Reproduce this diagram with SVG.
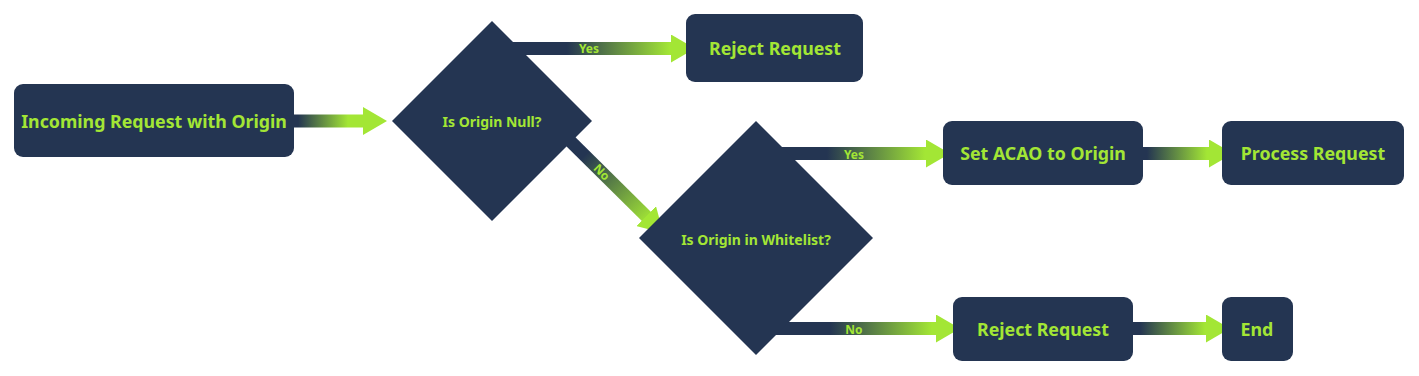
<svg xmlns="http://www.w3.org/2000/svg" width="1419" height="376" viewBox="0 0 1419 376">
<style>
.box{fill:#243552}
.t{font-family:"Noto Sans","DejaVu Sans",sans-serif;font-weight:bold;fill:#a3e635;text-anchor:middle;dominant-baseline:central}
.big{font-size:17.8px}
.mid{font-size:14px}
.lbl{font-size:12px}
.bar{stroke-width:13;fill:none}
</style>
<defs>
<marker id="ah" markerUnits="userSpaceOnUse" viewBox="0 0 24 28" markerWidth="24" markerHeight="28" refX="4" refY="14" orient="auto">
<path d="M0,0 L24,14 L0,28 Z" fill="#a3e635"/>
</marker>
<linearGradient id="g1" gradientUnits="userSpaceOnUse" x1="298" y1="0" x2="348" y2="0"><stop offset="0" stop-color="#243552"/><stop offset="1" stop-color="#a3e635"/></linearGradient>
<linearGradient id="g2" gradientUnits="userSpaceOnUse" x1="567" y1="0" x2="670" y2="0"><stop offset="0" stop-color="#243552"/><stop offset="1" stop-color="#a3e635"/></linearGradient>
<linearGradient id="g3" gradientUnits="userSpaceOnUse" x1="585" y1="155" x2="650" y2="220"><stop offset="0" stop-color="#243552"/><stop offset="1" stop-color="#a3e635"/></linearGradient>
<linearGradient id="g4" gradientUnits="userSpaceOnUse" x1="827" y1="0" x2="925" y2="0"><stop offset="0" stop-color="#243552"/><stop offset="1" stop-color="#a3e635"/></linearGradient>
<linearGradient id="g5" gradientUnits="userSpaceOnUse" x1="1147" y1="0" x2="1207" y2="0"><stop offset="0" stop-color="#243552"/><stop offset="1" stop-color="#a3e635"/></linearGradient>
<linearGradient id="g6" gradientUnits="userSpaceOnUse" x1="830" y1="0" x2="932" y2="0"><stop offset="0" stop-color="#243552"/><stop offset="1" stop-color="#a3e635"/></linearGradient>
<linearGradient id="g7" gradientUnits="userSpaceOnUse" x1="1140" y1="0" x2="1205" y2="0"><stop offset="0" stop-color="#243552"/><stop offset="1" stop-color="#a3e635"/></linearGradient>
</defs>
<g id="connectors">
<line class="bar" x1="294" y1="121" x2="367" y2="121" stroke="url(#g1)" marker-end="url(#ah)"/>
<line class="bar" x1="505" y1="48.5" x2="675" y2="48.5" stroke="url(#g2)" marker-end="url(#ah)"/>
<line class="bar" x1="560" y1="131" x2="649" y2="219" stroke="url(#g3)" marker-end="url(#ah)"/>
<line class="bar" x1="775" y1="153.5" x2="930" y2="153.5" stroke="url(#g4)" marker-end="url(#ah)"/>
<line class="bar" x1="1143" y1="153.5" x2="1213" y2="153.5" stroke="url(#g5)" marker-end="url(#ah)"/>
<line class="bar" x1="775" y1="328.5" x2="940" y2="328.5" stroke="url(#g6)" marker-end="url(#ah)"/>
<line class="bar" x1="1133" y1="328.5" x2="1210" y2="328.5" stroke="url(#g7)" marker-end="url(#ah)"/>
</g>
<g id="n1"><rect class="box" x="14" y="84" width="280" height="73" rx="9"/><text class="t big" x="154" y="121">Incoming Request with Origin</text></g>
<g id="d1"><polygon class="box" points="492,21 592,121 492,221 392,121"/><text class="t mid" x="492" y="121">Is Origin Null?</text></g>
<g id="n2"><rect class="box" x="686" y="14" width="177" height="68" rx="9"/><text class="t big" x="775" y="48">Reject Request</text></g>
<g id="d2"><polygon class="box" points="756,121 873,238 756,355 639,238"/><text class="t mid" x="756" y="239">Is Origin in Whitelist?</text></g>
<g id="n3"><rect class="box" x="943" y="121" width="200" height="64" rx="9"/><text class="t big" x="1043" y="153">Set ACAO to Origin</text></g>
<g id="n4"><rect class="box" x="1222" y="121" width="182" height="64" rx="9"/><text class="t big" x="1313" y="153">Process Request</text></g>
<g id="n5"><rect class="box" x="953" y="297" width="180" height="64" rx="9"/><text class="t big" x="1043" y="329">Reject Request</text></g>
<g id="n6"><rect class="box" x="1222" y="297" width="71" height="64" rx="9"/><text class="t big" x="1257" y="329">End</text></g>
<g id="labels">
<text class="t lbl" x="589" y="48">Yes</text>
<text class="t lbl" x="602" y="172" transform="rotate(45 602 172)">No</text>
<text class="t lbl" x="854" y="154">Yes</text>
<text class="t lbl" x="854" y="329">No</text>
</g>
</svg>
